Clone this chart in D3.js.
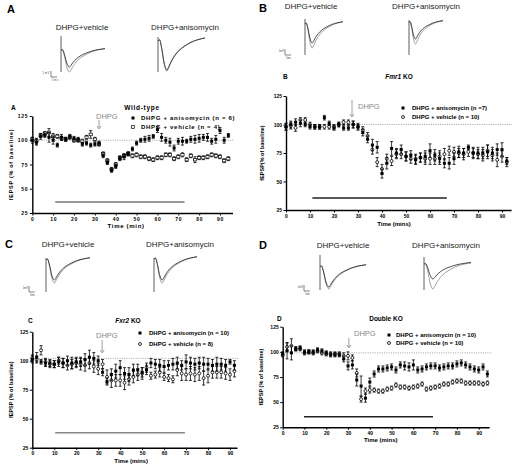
<!DOCTYPE html>
<html><head><meta charset="utf-8">
<script src="https://cdn.jsdelivr.net/npm/d3@7"></script>
<style>body{margin:0;background:#fff} svg{display:block;font-family:"Liberation Sans",Arial,sans-serif}</style>
</head><body><svg id="c" width="512" height="465"></svg>
<script>
// ---------------- DATA ----------------
const yTicks = [25, 50, 75, 100, 125];
const xTicks = [0, 10, 20, 30, 40, 50, 60, 70, 80, 90];
const timeA = [0,2,4,6,8,10,12,14,16,18,20,22,24,26,28,30,32,34,36,38,40,42,44,46,48,50,52,54,56,58,60,62,64,66,68,70,72,74,76,78,80,82,84,86,88,90,92,94];
const timeB = [0,2,4,6,8,10,12,14,16,18,20,22,24,26,28,30,32,34,36,38,40,42,44,46,48,50,52,54,56,58,60,62,64,66,68,70,72,74,76,78,80,82,84,86,88,90,92];
const timeC = timeB;
const timeD = timeA;

const aAni = [100,98,104,105,103,100,95,103,101,104,102,101,96,97,95,96,97,84,77,69,73,81,83,86,91,97,100,101,102,104,111,103,100,98,92,99,99,99,101,101,102,103,103,99,101,110,100,105];
const aAniErr = [3,3,3,2,5,4,2,3,2,2,2,2,2,2,2,2,2,2,2,2,2,2,3,2,2,2,2,3,3,2,3,4,3,4,3,3,4,2,3,4,4,3,4,3,4,3,3,2];
const aVeh = [101,99,105,107,108,104,104,102,101,103,100,100,99,103,106,101,96,86,79,70,75,82,84,86,84,85,83,83,81,80,82,82,85,85,81,83,85,80,84,80,82,82,83,85,84,83,79,81];
const aVehErr = [2,3,2,2,4,3,2,2,2,2,2,2,2,2,4,2,2,2,2,2,2,2,2,2,2,2,2,2,2,2,2,2,2,2,2,2,2,2,2,3,2,2,2,2,2,2,2,2];

const bAni = [98,100,102,101,100,98,98,98,106,101,97,100,97,97,100,98,93,87,82,80,57,66,79,75,78,72,73,69,71,72,77,73,70,66,66,70,76,75,80,75,75,75,76,75,78,78,68];
const bAniErr = [3,3,3,3,2,2,2,2,2,2,2,2,2,2,3,2,3,3,5,5,4,5,6,4,4,4,4,4,4,5,6,5,5,4,5,5,5,4,2,5,5,5,6,5,5,6,3];
const bVeh = [98,99,97,104,104,100,98,98,98,98,98,100,102,102,100,98,95,90,78,67,61,70,68,74,74,72,70,70,71,70,70,70,72,74,77,76,75,74,76,75,74,73,77,73,69,72,67];
const bVehErr = [3,3,3,2,2,2,2,2,2,2,2,2,2,2,3,3,3,3,4,4,4,4,4,4,4,4,4,4,4,5,5,5,5,5,4,4,4,5,4,4,4,5,5,5,6,5,4];

const cAni = [101,103,99,98,98,97,99,98,100,98,99,99,101,103,102,100,90,82,88,91,94,89,88,92,92,90,92,98,97,96,95,96,97,98,96,99,98,97,98,97,97,96,97,97,96,99,96];
const cAniErr = [3,4,2,3,3,3,4,4,4,5,4,4,5,6,5,4,3,3,5,6,6,5,6,5,5,4,4,4,4,5,5,4,5,5,4,6,5,5,5,6,5,5,6,5,5,2,4];
const cVeh = [102,101,109,99,97,97,100,98,96,97,98,97,96,98,95,93,97,86,83,83,83,81,84,86,88,89,94,87,88,90,86,85,84,92,89,88,89,88,89,85,87,90,90,90,89,88,91];
const cVehErr = [3,3,4,3,3,3,3,4,4,4,4,5,5,5,5,5,4,6,6,5,5,6,5,5,5,5,4,3,3,4,3,3,3,5,6,5,6,6,6,6,6,5,5,5,5,5,5];

const dAni = [98,101,99,103,104,100,100,100,102,101,99,97,97,97,93,86,87,72,66,54,70,78,83,83,84,85,82,87,86,85,87,82,83,85,86,86,84,85,86,86,88,89,87,85,83,82,85,78];
const dAniErr = [2,8,7,2,2,2,2,2,2,2,2,2,2,2,3,4,4,6,10,4,4,3,3,3,3,3,3,3,4,4,5,3,3,3,3,3,3,3,3,3,3,3,3,3,3,3,3,3];
const dVeh = [97,105,106,103,103,99,100,99,101,99,98,98,98,98,96,96,94,79,53,61,62,62,61,61,63,64,67,65,65,64,65,66,68,63,64,65,66,68,68,70,71,71,69,69,69,69,68,69];
const dVehErr = [2,4,7,2,2,2,2,2,2,2,2,2,2,2,3,4,3,4,3,3,3,2,2,2,2,2,2,2,2,2,2,2,2,2,2,2,2,2,2,2,2,2,2,2,2,2,2,2];

// normalised fEPSP waveform (fraction of sweep, fraction of trough depth)
const waveF = [0, 0.03, 0.08, 0.13, 0.19, 0.23, 0.28, 0.35, 0.45, 0.57, 0.7, 0.85, 1.0];
const waveD = [0.12, 0.08, 0.35, 0.78, 1.0, 0.9, 0.74, 0.57, 0.4, 0.27, 0.16, 0.08, 0.03];

const panelLetters = ["A", "B", "C", "D"];
const panelTitles = ["Wild-type", "Fmr1 KO", "Fxr2 KO", "Double KO"];
const legendAni = ["DHPG + anisomycin (n = 6)", "DHPG + anisomycin (n =7)", "DHPG + anisomycin (n = 10)", "DHPG + anisomycin (n = 10)"];
const legendVeh = ["DHPG + vehicle (n = 4)", "DHPG + vehicle (n = 10)", "DHPG + vehicle (n = 8)", "DHPG + vehicle (n = 10)"];
const xTitles = ["Time (min)", "Time (mins)", "Time (mins)", "Time (mins)"];
const yTitles = ["fEPSP (% of baseline)", "fEPSP(% of baseline)", "fEPSP (% of baseline)", "fEPSP (% of baseline)"];
const traceTitles = ["DHPG+vehicle", "DHPG+anisomycin"];

// ---------------- DRAW ----------------
const svg = d3.select('#c');

function drawPanel(p) {
  const g = svg.append('g').style('letter-spacing', p.ls || 0);
  const ppm = (p.x90 - p.x0) / 90;
  const xEnd = p.x0 + p.xMax * ppm;
  const x = d3.scaleLinear().domain([0, p.xMax]).range([p.x0, xEnd]);
  const y = d3.scaleLinear().domain([25, 125]).range([p.y25, p.y125]);

  // top labels
  svg.append('text').attr('x', p.bigX).attr('y', p.bigY).text(p.letter)
    .attr('font-size', 11).attr('font-weight', 'bold');
  p.headX.forEach((hx, i) => svg.append('text').attr('x', hx).attr('y', p.headY)
    .attr('text-anchor', 'middle').attr('font-size', 8).attr('fill', '#222').text(traceTitles[i]));

  // traces
  p.insets.forEach(ins => {
    const tx = d3.scaleLinear().domain([0, 1]).range([ins.x0, ins.x1]);
    const line = (yTr) => {
      const ty = d3.scaleLinear().domain([0, 1]).range([ins.yb, yTr]);
      return d3.line().x((d, i) => tx(waveF[i])).y(d => ty(d)).curve(d3.curveMonotoneX)(waveD);
    };
    g.append('line').attr('x1', ins.x0).attr('x2', ins.x0).attr('y1', ins.at).attr('y2', ins.ab)
      .attr('stroke', '#333').attr('stroke-width', 0.8);
    if (ins.grey) g.append('path').attr('d', line(ins.grey)).attr('fill', 'none').attr('stroke', '#888').attr('stroke-width', 0.8);
    g.append('path').attr('d', line(ins.black)).attr('fill', 'none').attr('stroke', '#222').attr('stroke-width', 0.8);
  });
  // scale bar
  const sb = p.sb;
  g.append('path').attr('d', `M${sb[0]},${sb[1]}V${sb[1]+6}H${sb[0]+6}`).attr('fill', 'none').attr('stroke', '#333').attr('stroke-width', 0.6);
  g.append('text').attr('x', sb[0]-1).attr('y', sb[1]+3).attr('text-anchor', 'end').attr('font-size', 2.6).attr('fill', '#444').text('1mV');
  g.append('text').attr('x', sb[0]+1).attr('y', sb[1]+9.5).attr('font-size', 2.6).attr('fill', '#444').text('5ms');

  // small letter + title
  g.append('text').attr('x', p.smallX).attr('y', p.titleY).attr('font-size', 6.5).attr('font-weight', 'bold').text(p.letter);
  const tt = g.append('text').attr('x', p.titleX).attr('y', p.titleY).attr('text-anchor', 'middle')
    .attr('font-size', 6.5).attr('font-weight', 'bold');
  if (p.italic) {
    tt.append('tspan').attr('font-style', 'italic').text(p.italic);
    tt.append('tspan').text(p.title.slice(p.italic.length));
  } else tt.text(p.title);

  // dotted baseline
  g.append('line').attr('x1', p.x0).attr('x2', xEnd + 2).attr('y1', y(p.dotted)).attr('y2', y(p.dotted))
    .attr('stroke', '#777').attr('stroke-width', 0.7).attr('stroke-dasharray', '1,1.3');

  // drug bar
  g.append('line').attr('x1', x(p.bar[0])).attr('x2', x(p.bar[1])).attr('y1', p.barY).attr('y2', p.barY)
    .attr('stroke', p.barColor).attr('stroke-width', 1.4);

  // axes
  const xa = g.append('g').attr('transform', `translate(0,${p.y25})`)
    .call(d3.axisBottom(x).tickValues(xTicks).tickSize(2.5).tickPadding(1.5).tickSizeOuter(0));
  const ya = g.append('g').attr('transform', `translate(${p.x0},0)`)
    .call(d3.axisLeft(y).tickValues(yTicks).tickSize(2.5).tickPadding(1.5).tickSizeOuter(0));
  [xa, ya].forEach(a => {
    a.select('.domain').attr('stroke-width', 1.4);
    a.selectAll('.tick line').attr('stroke-width', 1);
    a.selectAll('text').attr('font-size', 5).attr('font-weight', 'bold').attr('font-family', '"Liberation Sans",Arial,sans-serif');
  });
  g.append('text').attr('x', (p.x0 + p.x90) / 2).attr('y', p.xtY).attr('text-anchor', 'middle')
    .attr('font-size', 6).attr('font-weight', 'bold').text(p.xTitle);
  g.append('text').attr('transform', `translate(${p.ytX},${(p.y25 + p.y125) / 2}) rotate(-90)`)
    .attr('text-anchor', 'middle').attr('font-size', 5.5).attr('font-weight', 'bold').text(p.yTitle);

  // DHPG arrow
  g.append('text').attr('x', p.dhpg[0]).attr('y', p.dhpg[1]).attr('font-size', 7.5).attr('fill', '#888').style('letter-spacing', 0).text('DHPG');
  const ax = x(p.arrowT);
  g.append('line').attr('x1', ax).attr('x2', ax).attr('y1', p.arrowY[0]).attr('y2', p.arrowY[1] - 1)
    .attr('stroke', '#888').attr('stroke-width', 0.8);
  g.append('path').attr('d', `M${ax-2},${p.arrowY[1]-3}L${ax},${p.arrowY[1]}L${ax+2},${p.arrowY[1]-3}`)
    .attr('fill', 'none').attr('stroke', '#888').attr('stroke-width', 0.8);

  // series
  const series = [
    {t: p.time, v: p.veh, e: p.vehErr, open: true},
    {t: p.time, v: p.ani, e: p.aniErr, open: false}
  ];
  series.forEach(s => {
    const sg = g.append('g');
    s.v.forEach((v, i) => {
      const cx = x(s.t[i]), e = s.e[i] ?? 2;
      const y1 = y(v - e), y2 = y(v + e);
      sg.append('path').attr('d', `M${cx},${y1}V${y2}M${cx-1.5},${y1}H${cx+1.5}M${cx-1.5},${y2}H${cx+1.5}`)
        .attr('stroke', '#000').attr('stroke-width', 0.8).attr('fill', 'none');
    });
    if (s.open) {
      if (p.openSquare) {
        sg.selectAll('rect.m').data(s.v).join('rect').attr('class', 'm')
          .attr('x', (d, i) => x(s.t[i]) - 1.6).attr('y', d => y(d) - 1.3).attr('width', 3.2).attr('height', 2.6)
          .attr('fill', '#fff').attr('stroke', '#000').attr('stroke-width', 0.7);
      } else {
        sg.selectAll('circle.m').data(s.v).join('circle').attr('class', 'm')
          .attr('cx', (d, i) => x(s.t[i])).attr('cy', d => y(d)).attr('r', 1.5)
          .attr('fill', '#fff').attr('stroke', '#000').attr('stroke-width', 0.8);
      }
    } else {
      sg.selectAll('rect.m').data(s.v).join('rect').attr('class', 'm')
        .attr('x', (d, i) => x(s.t[i]) - 1.5).attr('y', d => y(d) - 1.5).attr('width', 3).attr('height', 3)
        .attr('fill', '#000');
    }
  });

  // legend
  const lg = g.append('g');
  [[p.legAni, false], [p.legVeh, true]].forEach(([txt, open], k) => {
    const ly = p.legY[k];
    if (open) {
      if (p.openSquare) lg.append('rect').attr('x', p.legMX - 1.6).attr('y', ly - 1.3).attr('width', 3.2).attr('height', 2.6)
        .attr('fill', '#fff').attr('stroke', '#000').attr('stroke-width', 0.7);
      else lg.append('circle').attr('cx', p.legMX).attr('cy', ly).attr('r', 1.5).attr('fill', '#fff').attr('stroke', '#000').attr('stroke-width', 0.8);
    } else lg.append('rect').attr('x', p.legMX - 1.5).attr('y', ly - 1.5).attr('width', 3).attr('height', 3).attr('fill', '#000');
    lg.append('text').attr('x', p.legTX).attr('y', ly + 2).attr('font-size', 6).attr('font-weight', 'bold').text(txt);
  });
}

const panels = [
  {letter: panelLetters[0], title: panelTitles[0], bigX: 7, bigY: 13, headX: [82, 185], headY: 30,
   insets: [{x0: 61, x1: 105, yb: 48, at: 36, ab: 72, black: 67, grey: 72},
            {x0: 158, x1: 205, yb: 37, at: 37, ab: 72, black: 70, grey: 71}],
   sb: [51, 71], smallX: 11, titleX: 142, titleY: 110, ls: '0.7px',
   x0: 32.3, x90: 220, xMax: 96, y25: 213, y125: 116, dotted: 100, bar: [11, 73], barY: 202, barColor: '#777',
   xtY: 228, ytX: 13, xTitle: xTitles[0], yTitle: yTitles[0], dhpg: [96, 119], arrowT: 32, arrowY: [120, 129],
   time: timeA, ani: aAni, aniErr: aAniErr, veh: aVeh, vehErr: aVehErr, openSquare: true,
   legAni: legendAni[0], legVeh: legendVeh[0], legY: [118, 127], legMX: 133, legTX: 141},
  {letter: panelLetters[1], title: panelTitles[1], italic: 'Fmr1', bigX: 259, bigY: 12, headX: [311, 426], headY: 9,
   insets: [{x0: 305, x1: 343, yb: 21, at: 19, ab: 55, black: 43, grey: 48},
            {x0: 409, x1: 443, yb: 20, at: 20, ab: 55, black: 39, grey: 44}],
   sb: [285, 49], smallX: 283, titleX: 399, titleY: 79,
   x0: 286, x90: 502, xMax: 93.8, y25: 210, y125: 96, dotted: 100, bar: [11, 67], barY: 198, barColor: '#222',
   xtY: 226, ytX: 264, xTitle: xTitles[1], yTitle: yTitles[1], dhpg: [358, 109], arrowT: 27.5, arrowY: [100, 117],
   time: timeB, ani: bAni, aniErr: bAniErr, veh: bVeh, vehErr: bVehErr,
   legAni: legendAni[1], legVeh: legendVeh[1], legY: [108, 117], legMX: 403, legTX: 412},
  {letter: panelLetters[2], title: panelTitles[2], italic: 'Fxr2', bigX: 5, bigY: 248, headX: [68, 180], headY: 247,
   insets: [{x0: 46, x1: 90, yb: 257, at: 258, ab: 292, black: 280, grey: 283},
            {x0: 154, x1: 197, yb: 256, at: 258, ab: 292, black: 280, grey: 283}],
   sb: [29, 286], smallX: 28, titleX: 128, titleY: 323,
   x0: 32.3, x90: 230, xMax: 93.2, y25: 447.7, y125: 331.7, dotted: 102, bar: [10.4, 69.5], barY: 432.7, barColor: '#888',
   xtY: 463, ytX: 13, xTitle: xTitles[2], yTitle: yTitles[2], dhpg: [96, 338], arrowT: 31.8, arrowY: [340, 353],
   time: timeC, ani: cAni, aniErr: cAniErr, veh: cVeh, vehErr: cVehErr,
   legAni: legendAni[2], legVeh: legendVeh[2], legY: [333, 344], legMX: 140, legTX: 149},
  {letter: panelLetters[3], title: panelTitles[3], bigX: 259, bigY: 249, headX: [343, 446], headY: 248,
   insets: [{x0: 320, x1: 366, yb: 264, at: 255, ab: 290, black: 287, grey: 289},
            {x0: 424, x1: 471, yb: 262, at: 257, ab: 290, black: 279, grey: 289}],
   sb: [304, 285], smallX: 277, titleX: 386, titleY: 321,
   x0: 282.7, x90: 478.7, xMax: 94.8, y25: 427.3, y125: 326.7, dotted: 99, bar: [9.8, 69], barY: 416.7, barColor: '#222',
   xtY: 442, ytX: 263, xTitle: xTitles[3], yTitle: yTitles[3], dhpg: [354, 336], arrowT: 30.4, arrowY: [338, 348],
   time: timeD, ani: dAni, aniErr: dAniErr, veh: dVeh, vehErr: dVehErr,
   legAni: legendAni[3], legVeh: legendVeh[3], legY: [335, 343], legMX: 389, legTX: 396}
];
panels.forEach(drawPanel);
</script></body></html>
